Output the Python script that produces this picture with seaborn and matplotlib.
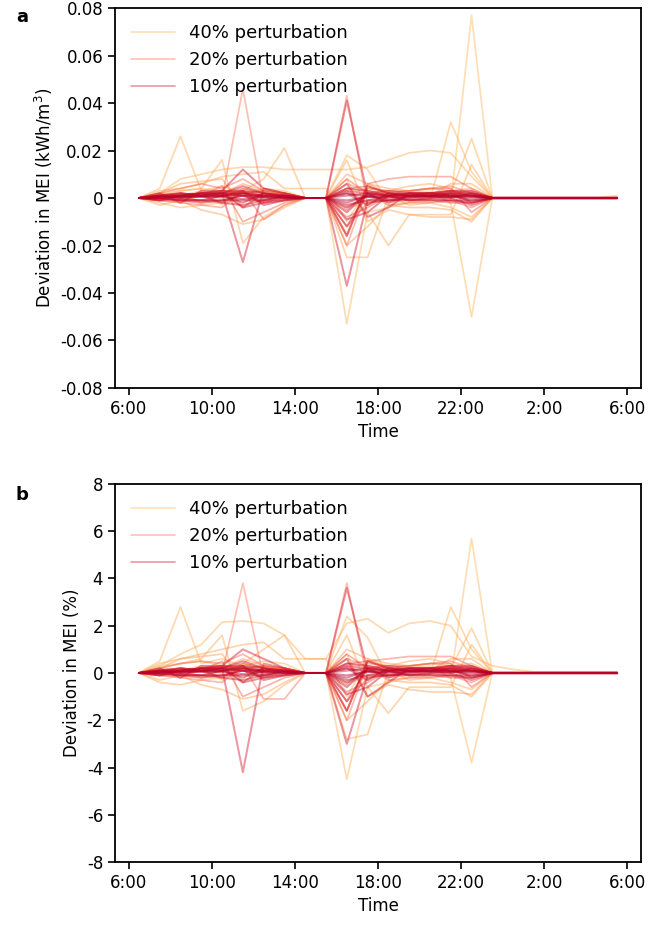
import matplotlib
matplotlib.use("Agg")
import matplotlib.pyplot as plt
from matplotlib.lines import Line2D
from matplotlib.ticker import FuncFormatter
import seaborn as sns

# hourly samples, 6:30 -> 5:30 next day (hours since midnight)
time_h = [6.5, 7.5, 8.5, 9.5, 10.5, 11.5, 12.5, 13.5, 14.5, 15.5, 16.5, 17.5,
          18.5, 19.5, 20.5, 21.5, 22.5, 23.5, 24.5, 25.5, 26.5, 27.5, 28.5, 29.5]
tick_hours = [6, 10, 14, 18, 22, 26, 30]
tick_labels = ["6:00", "10:00", "14:00", "18:00", "22:00", "2:00", "6:00"]
groups = ["40% perturbation", "20% perturbation", "10% perturbation"]

# panel a: deviation in MEI (kWh/m3)
a40 = [
    [0, .002, .003, .004, .003, .002, .003, .002, 0, 0, .004, .003, .002, .003, .002, -.002, .077, 0, 0, 0, 0, 0, 0, 0],
    [0, -.001, .002, .001, .003, .002, .001, .002, 0, 0, -.004, -.002, .001, .002, .003, -.002, -.050, 0, 0, 0, 0, 0, 0, 0],
    [0, .001, -.002, .002, -.003, .004, .002, .001, 0, 0, -.053, -.006, -.004, -.002, -.001, .032, .011, 0, 0, 0, 0, 0, 0, 0],
    [0, .002, .008, .010, .012, .013, .013, .012, .012, .012, .012, .013, .016, .019, .020, .019, .009, 0, 0, 0, 0, 0, 0, .001],
    [0, .004, .026, .003, .005, .002, .004, .003, 0, 0, .018, .012, -.002, -.001, 0, .002, .025, 0, 0, 0, 0, 0, 0, 0],
    [0, .001, .003, .004, .016, -.019, -.008, -.003, 0, 0, .016, -.006, -.020, -.007, -.007, -.007, .014, 0, 0, 0, 0, 0, 0, 0],
    [0, -.002, -.004, -.003, -.002, .003, .008, .021, 0, 0, -.025, -.025, .001, -.003, -.002, -.004, -.008, 0, 0, 0, 0, 0, 0, 0],
    [0, .003, .004, .006, .009, .010, .011, .004, .004, .004, -.010, .004, .003, .005, .006, .004, -.002, 0, 0, 0, 0, 0, 0, 0],
    [0, -.003, -.001, -.005, -.007, -.011, -.009, -.004, 0, 0, .008, -.010, -.005, -.007, -.008, -.008, -.009, 0, 0, 0, 0, 0, 0, 0],
    [0, .002, .006, .007, .008, -.004, .002, .002, 0, 0, -.015, .006, .002, .001, .001, .006, .006, 0, 0, 0, 0, 0, 0, 0],
    [0, -.001, .002, -.002, .001, .001, -.002, -.001, 0, 0, -.020, -.012, -.003, -.004, -.004, -.005, -.010, 0, 0, 0, 0, 0, 0, 0],
    [0, .001, .001, .003, .002, .006, .003, .002, 0, 0, .010, .006, .004, .003, .004, .003, .004, 0, 0, 0, 0, 0, 0, 0],
]
a20 = [
    [0, .001, .002, .001, 0, .046, -.002, .001, 0, 0, .006, .003, .002, .001, .002, .001, .002, 0, 0, 0, 0, 0, 0, 0],
    [0, .002, .001, .002, .003, .002, .001, .002, 0, 0, .043, -.003, .002, .001, .002, .003, .001, 0, 0, 0, 0, 0, 0, 0],
    [0, -.001, -.002, -.003, -.004, .003, -.009, -.003, 0, 0, -.020, .004, .003, .003, .004, .005, .002, 0, 0, 0, 0, 0, 0, 0],
    [0, .002, .004, .006, .004, .008, .003, .002, 0, 0, -.016, .006, .008, .009, .009, .009, .004, 0, 0, 0, 0, 0, 0, 0],
    [0, -.001, .001, .002, .003, -.004, .002, .001, 0, 0, .008, .002, -.003, -.002, -.002, -.001, -.004, 0, 0, 0, 0, 0, 0, 0],
    [0, .001, -.001, .001, .005, -.010, -.006, -.002, 0, 0, -.012, -.002, -.001, .001, .001, .003, .001, 0, 0, 0, 0, 0, 0, 0],
    [0, 0, .002, .001, .002, .004, .002, .001, 0, 0, .004, .005, .002, .003, .004, .004, -.006, 0, 0, 0, 0, 0, 0, 0],
    [0, .001, 0, -.001, -.002, .002, .003, .001, 0, 0, -.008, -.004, .001, .002, .002, .002, .003, 0, 0, 0, 0, 0, 0, 0],
    [0, .001, .001, .002, .002, .003, .001, .001, 0, 0, -.005, .002, .001, .001, .002, .002, .001, 0, 0, 0, 0, 0, 0, 0],
    [0, 0, -.001, -.001, -.001, .001, -.002, 0, 0, 0, .003, -.002, -.001, -.001, -.001, -.002, -.002, 0, 0, 0, 0, 0, 0, 0],
]
a10 = [
    [0, .001, .002, .001, .002, -.027, .004, .002, 0, 0, .003, .002, .001, .001, .002, .001, .001, 0, 0, 0, 0, 0, 0, 0],
    [0, .001, .001, .002, .001, .002, .001, .001, 0, 0, .041, .001, .002, .001, .001, .002, .001, 0, 0, 0, 0, 0, 0, 0],
    [0, -.001, -.001, -.002, -.001, .001, -.001, .001, 0, 0, -.037, -.001, .001, -.001, -.001, -.001, -.002, 0, 0, 0, 0, 0, 0, 0],
    [0, .002, -.002, .003, .003, .012, .004, .002, 0, 0, .006, -.008, -.004, .002, .002, .003, .002, 0, 0, 0, 0, 0, 0, 0],
    [0, -.001, .001, .001, .002, -.004, -.002, -.001, 0, 0, -.016, .005, .002, .001, .001, .002, -.002, 0, 0, 0, 0, 0, 0, 0],
    [0, .001, 0, .002, .003, .003, .002, .001, 0, 0, -.012, .002, .003, .002, .002, .003, .003, 0, 0, 0, 0, 0, 0, 0],
    [0, 0, .001, .001, -.002, -.003, -.001, .001, 0, 0, -.009, -.006, .001, -.001, 0, 0, -.003, 0, 0, 0, 0, 0, 0, 0],
    [0, .001, .001, .002, .002, .005, .002, .001, 0, 0, .004, .003, .001, .002, .002, .001, .001, 0, 0, 0, 0, 0, 0, 0],
    [0, 0, -.001, -.001, .001, -.002, .002, 0, 0, 0, -.006, .002, -.002, .001, .001, 0, .002, 0, 0, 0, 0, 0, 0, 0],
    [0, .001, .002, .001, .001, .003, -.003, -.001, 0, 0, .002, -.003, .002, .001, .001, .001, -.001, 0, 0, 0, 0, 0, 0, 0],
    [0, 0, .001, .002, .002, .001, .001, .001, 0, 0, -.004, .001, -.001, 0, .001, .001, .001, 0, 0, 0, 0, 0, 0, 0],
    [0, .001, 0, .001, .002, .002, 0, 0, 0, 0, .001, .002, .001, .002, .001, .002, .002, 0, 0, 0, 0, 0, 0, 0],
    [0, .0005, .001, .001, .001, .002, .001, .0005, 0, 0, -.002, .001, .001, .001, .001, .001, .001, .0003, .0003, .0003, .0003, .0003, .0003, .0003],
    [0, -.0005, -.0005, -.001, -.001, -.001, -.001, -.0005, 0, 0, -.003, -.001, -.001, -.0005, -.0005, -.001, -.001, -.0003, -.0003, -.0003, -.0003, -.0003, -.0003, -.0003],
    [0, .0005, .0005, .0005, .001, .001, .0005, .0005, 0, 0, .002, .0005, .0005, .0005, .0005, .0005, .0005, 0, 0, 0, 0, 0, 0, 0],
    [0, 0, .0005, .0005, .0005, -.0005, .0005, 0, 0, 0, -.001, .0005, 0, .0005, .0005, .0005, 0, 0, 0, 0, 0, 0, 0, 0],
]

# panel b: deviation in MEI (%)
b40 = [
    [0, .3, .4, .5, .3, .2, .3, .2, 0, 0, .4, .3, .2, .3, .2, -.2, 5.7, 0, 0, 0, 0, 0, 0, 0],
    [0, -.1, .2, .1, .3, .2, .1, .2, 0, 0, -.4, -.2, .1, .2, .3, -.2, -3.8, 0, 0, 0, 0, 0, 0, 0],
    [0, .1, -.2, .2, -.3, .4, .2, .1, 0, 0, -4.5, -.6, -.4, -.2, -.1, 2.8, 1.0, 0, 0, 0, 0, 0, 0, 0],
    [0, .3, .8, 1.2, 2.15, 2.2, 2.1, 1.6, .6, .6, 2.1, 2.3, 1.7, 2.1, 2.2, 2.0, .7, .3, .15, .05, .05, .05, .05, .05],
    [0, .5, 2.8, .4, .6, .3, .5, .4, 0, 0, 2.4, 1.5, -.2, -.1, 0, .2, 1.9, 0, 0, 0, 0, 0, 0, 0],
    [0, .2, .4, .6, 1.6, -1.6, -1.2, -.5, 0, 0, 1.6, -.6, -1.7, -.6, -.6, -.6, 1.2, 0, 0, 0, 0, 0, 0, 0],
    [0, -.4, -.5, -.3, -.2, .4, 1.0, 1.6, 0, 0, -2.8, -2.6, .1, -.3, -.2, -.4, -.7, 0, 0, 0, 0, 0, 0, 0],
    [0, .4, .6, .8, 1.0, 1.2, 1.3, .6, .6, .6, -1.0, .5, .3, .5, .6, .4, -.2, 0, 0, 0, 0, 0, 0, 0],
    [0, -.3, -.1, -.5, -.7, -1.1, -.9, -.4, 0, 0, .8, -1.0, -.5, -.7, -.8, -.8, -.9, 0, 0, 0, 0, 0, 0, 0],
    [0, .2, .6, .7, .8, -.4, .2, .2, 0, 0, -1.6, .6, .2, .1, .1, .6, .6, 0, 0, 0, 0, 0, 0, 0],
    [0, -.1, .2, -.2, .1, .1, -.2, -.1, 0, 0, -2.0, -1.2, -.3, -.4, -.4, -.5, -1.0, 0, 0, 0, 0, 0, 0, 0],
    [0, .1, .1, .3, .2, .6, .3, .2, 0, 0, 1.0, .6, .4, .3, .4, .3, .4, 0, 0, 0, 0, 0, 0, 0],
]
b20 = [
    [0, .1, .2, .1, 0, 3.8, -.2, .1, 0, 0, .6, .3, .2, .1, .2, .1, .2, 0, 0, 0, 0, 0, 0, 0],
    [0, .2, .1, .2, .3, .2, .1, .2, 0, 0, 3.8, -.3, .2, .1, .2, .3, .1, 0, 0, 0, 0, 0, 0, 0],
    [0, -.1, -.2, -.3, -.4, .3, -1.1, -1.1, 0, 0, -2.0, .4, .3, .3, .4, .5, .2, 0, 0, 0, 0, 0, 0, 0],
    [0, .2, .4, .5, .4, .8, .3, .2, 0, 0, -1.6, .5, .6, .7, .7, .7, .3, 0, 0, 0, 0, 0, 0, 0],
    [0, -.1, .1, .2, .3, -.4, .2, .1, 0, 0, .8, .2, -.3, -.2, -.2, -.1, -.4, 0, 0, 0, 0, 0, 0, 0],
    [0, .1, -.1, .1, .5, -1.0, -.6, -.2, 0, 0, -1.2, -.2, -.1, .1, .1, .3, .1, 0, 0, 0, 0, 0, 0, 0],
    [0, 0, .2, .1, .2, .4, .2, .1, 0, 0, .4, .5, .2, .3, .4, .4, -.6, 0, 0, 0, 0, 0, 0, 0],
    [0, .1, 0, -.1, -.2, .2, .3, .1, 0, 0, -.8, -.4, .1, .2, .2, .2, .3, 0, 0, 0, 0, 0, 0, 0],
    [0, .1, .1, .2, .2, .3, .1, .1, 0, 0, -.5, .2, .1, .1, .2, .2, .1, 0, 0, 0, 0, 0, 0, 0],
    [0, 0, -.1, -.1, -.1, .1, -.2, 0, 0, 0, .3, -.2, -.1, -.1, -.1, -.2, -.2, 0, 0, 0, 0, 0, 0, 0],
]
b10 = [
    [0, .1, .2, .1, .2, -4.2, .4, .2, 0, 0, .3, .2, .1, .1, .2, .1, .1, 0, 0, 0, 0, 0, 0, 0],
    [0, .1, .1, .2, .1, .2, .1, .1, 0, 0, 3.6, .1, .2, .1, .1, .2, .1, 0, 0, 0, 0, 0, 0, 0],
    [0, -.1, -.1, -.2, -.1, .1, -.1, .1, 0, 0, -3.0, -.1, .1, -.1, -.1, -.1, -.2, 0, 0, 0, 0, 0, 0, 0],
    [0, .2, -.2, .3, .3, 1.0, .6, .2, 0, 0, .6, -1.0, -.4, .2, .2, .3, .2, 0, 0, 0, 0, 0, 0, 0],
    [0, -.1, .1, .1, .2, -.4, -.2, -.1, 0, 0, -1.6, .5, .2, .1, .1, .2, -.2, 0, 0, 0, 0, 0, 0, 0],
    [0, .1, 0, .2, .3, .3, .2, .1, 0, 0, -1.2, .2, .3, .2, .2, .3, .3, 0, 0, 0, 0, 0, 0, 0],
    [0, 0, .1, .1, -.2, -.3, -.1, .1, 0, 0, -.9, -.6, .1, -.1, 0, 0, -.3, 0, 0, 0, 0, 0, 0, 0],
    [0, .1, .1, .2, .2, .5, .2, .1, 0, 0, .4, .3, .1, .2, .2, .1, .1, 0, 0, 0, 0, 0, 0, 0],
    [0, 0, -.1, -.1, .1, -.2, .2, 0, 0, 0, -.6, .2, -.2, .1, .1, 0, .2, 0, 0, 0, 0, 0, 0, 0],
    [0, .1, .2, .1, .1, .3, -.3, -.1, 0, 0, .2, -.3, .2, .1, .1, .1, -.1, 0, 0, 0, 0, 0, 0, 0],
    [0, 0, .1, .2, .2, .1, .1, .1, 0, 0, -.4, .1, -.1, 0, .1, .1, .1, 0, 0, 0, 0, 0, 0, 0],
    [0, .1, 0, .1, .2, .2, 0, 0, 0, 0, .1, .2, .1, .2, .1, .2, .2, 0, 0, 0, 0, 0, 0, 0],
    [0, .05, .1, .1, .1, .2, .1, .05, 0, 0, -.2, .1, .1, .1, .1, .1, .1, .03, .03, .03, .03, .03, .03, .03],
    [0, -.05, -.05, -.1, -.1, -.1, -.1, -.05, 0, 0, -.3, -.1, -.1, -.05, -.05, -.1, -.1, -.03, -.03, -.03, -.03, -.03, -.03, -.03],
    [0, .05, .05, .05, .1, .1, .05, .05, 0, 0, .2, .05, .05, .05, .05, .05, .05, 0, 0, 0, 0, 0, 0, 0],
    [0, 0, .05, .05, .05, -.05, .05, 0, 0, 0, -.1, .05, 0, .05, .05, .05, 0, 0, 0, 0, 0, 0, 0, 0],
]

sns.set_style("ticks")
plt.rcParams['font.family'] = ['DejaVu Sans']
plt.rcParams['axes.unicode_minus'] = False
for key in ['text.color', 'axes.labelcolor', 'xtick.color', 'ytick.color', 'axes.edgecolor']:
    plt.rcParams[key] = 'black'

group_colors = [("#feb24c", "#fd8d3c"), ("#fb6a4a", "#e8312a"), ("#d7192f", "#b5002a")]
alphas = [0.42, 0.42, 0.45]
widths = [1.25, 1.25, 1.45]

fig = plt.figure(figsize=(6.52, 9.32), dpi=100)
ax_a = fig.add_axes([0.1764, 0.5837, 0.8067, 0.4077])
ax_b = fig.add_axes([0.1764, 0.0751, 0.8067, 0.4056])


def draw_panel(ax, series, ylim, yticks, fmt, ylabel):
    for (c0, c1), alpha, lw, rows in zip(group_colors, alphas, widths, series):
        pal = sns.blend_palette([c0, c1], len(rows))
        for col, row in zip(pal, rows):
            sns.lineplot(x=time_h, y=row, ax=ax, color=col, alpha=alpha, lw=lw)
    ax.set_ylim(*ylim)
    ax.set_yticks(yticks)
    ax.yaxis.set_major_formatter(FuncFormatter(fmt))
    ax.set_xticks(tick_hours)
    ax.set_xticklabels(tick_labels)
    ax.set_xlabel("Time", fontsize=12)
    ax.set_ylabel(ylabel, fontsize=12)
    ax.tick_params(labelsize=12, width=1.2, length=5)
    for s in ax.spines.values():
        s.set_linewidth(1.3)
        s.set_color("black")
    handles = [Line2D([0], [0], color=c[0], alpha=a, lw=1.2) for c, a in zip(group_colors, alphas)]
    ax.legend(handles, groups, loc="upper left", frameon=False, fontsize=13, handlelength=2.4)


draw_panel(ax_a, [a40, a20, a10], (-0.08, 0.08),
           [-0.08, -0.06, -0.04, -0.02, 0, 0.02, 0.04, 0.06, 0.08],
           lambda v, p: "0" if abs(v) < 1e-9 else f"{v:.2f}",
           "Deviation in MEI (kWh/m$^3$)")
draw_panel(ax_b, [b40, b20, b10], (-8, 8),
           [-8, -6, -4, -2, 0, 2, 4, 6, 8],
           lambda v, p: f"{v:.0f}",
           "Deviation in MEI (%)")

fig.text(0.034, 0.982, "a", fontsize=13, fontweight="bold", va="center", ha="center")
fig.text(0.034, 0.469, "b", fontsize=13, fontweight="bold", va="center", ha="center")

fig.savefig("out.png", dpi=100)
